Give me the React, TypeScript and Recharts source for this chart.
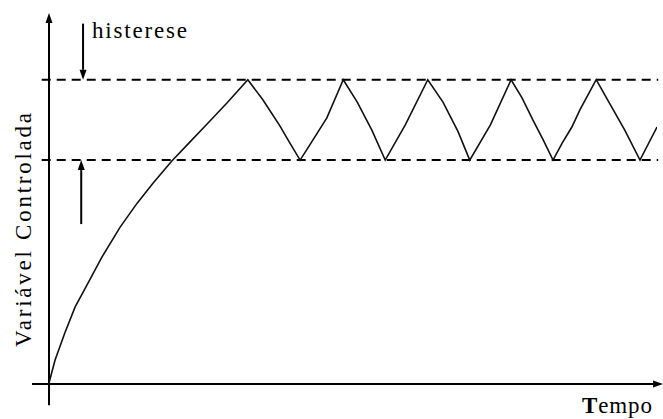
import React from 'react';
import { ComposedChart, Line, XAxis, YAxis, ReferenceLine, Customized } from 'recharts';

// Time (arbitrary units) and controlled variable (% of upper limit)
const timeValues = [
  0, 1.0, 2.6, 4.3, 6.7, 8.7, 11.7, 14.5, 17.1, 20.2, 23.2, 26.0, 29.3, 32.7,
  35.2, 38.0, 39.6, 41.3, 42.9, 45.7, 48.4,
  50.7, 53.1, 55.3, 58.6, 62.3,
  64.8, 67.3, 69.2, 72.6, 76.0,
  77.8, 79.6, 81.3, 82.9, 84.4, 86.0, 87.3, 90.0,
  91.9, 94.7, 97.2, 100,
];
const controlledValues = [
  0, 7.6, 16.5, 25.1, 34.0, 41.5, 51.4, 59.3, 65.9, 73.2, 79.5, 85.4, 92.4, 100,
  93.3, 84.7, 79.2, 73.5, 78.5, 87.4, 100,
  92.6, 83.4, 73.5, 85.1, 100,
  92.6, 82.8, 73.5, 85.1, 100,
  94.0, 86.7, 80.1, 73.5, 79.1, 84.4, 90.0, 100,
  93.3, 83.4, 73.5, 84.4,
];
const upperLimit = 100;
const lowerLimit = 73.5;
const xDomain = [0, 100];
const yDomain = [0, 122];
const yAxisTitle = 'Variável Controlada';
const xAxisTitleFirst = 'T';
const xAxisTitleRest = 'empo';
const hysteresisLabel = 'histerese';

const data = timeValues.map((t, i) => ({ t, v: controlledValues[i] }));

const FONT = '"Liberation Serif", "Times New Roman", serif';

const ArrowLine = (props: any) => {
  const { x1, y1, x2, y2 } = props;
  const dx = x2 - x1;
  const dy = y2 - y1;
  const len = Math.sqrt(dx * dx + dy * dy) || 1;
  const ux = dx / len;
  const uy = dy / len;
  const headLen = 10;
  const half = 3.5;
  const bx = x2 - ux * headLen;
  const by = y2 - uy * headLen;
  const px = -uy;
  const py = ux;
  return (
    <g>
      <line x1={x1} y1={y1} x2={bx} y2={by} stroke="#000" strokeWidth={2} />
      <polygon
        points={`${x2},${y2} ${bx + px * half},${by + py * half} ${bx - px * half},${by - py * half}`}
        fill="#000"
      />
    </g>
  );
};

const Texts = () => (
  <g fontFamily={FONT} fill="#000">
    <text x={92} y={38} fontSize={23} textLength={95} lengthAdjust="spacing">
      {hysteresisLabel}
    </text>
    <text x={582} y={413} fontSize={23} textLength={70} lengthAdjust="spacing">
      <tspan fontWeight="bold">{xAxisTitleFirst}</tspan>
      <tspan>{xAxisTitleRest}</tspan>
    </text>
    <text
      x={0}
      y={0}
      fontSize={23}
      textAnchor="middle"
      textLength={234}
      lengthAdjust="spacing"
      transform="translate(31,230) rotate(-90)"
    >
      {yAxisTitle}
    </text>
  </g>
);

export default function App() {
  return (
    <div style={{ width: 663, height: 419, background: '#fff' }}>
      <style>{'body{margin:0;background:#fff}'}</style>
      <ComposedChart
        width={663}
        height={419}
        data={data}
        margin={{ top: 13, right: 6, bottom: 36, left: 49 }}
      >
        <XAxis type="number" dataKey="t" domain={xDomain} hide allowDataOverflow />
        <YAxis type="number" domain={yDomain} hide allowDataOverflow />
        <ReferenceLine
          segment={[{ x: -1.2, y: upperLimit }, { x: 100.2, y: upperLimit }]}
          stroke="#000"
          strokeWidth={2}
          strokeDasharray="9 6"
          ifOverflow="visible"
        />
        <ReferenceLine
          segment={[{ x: -1.2, y: lowerLimit }, { x: 100.2, y: lowerLimit }]}
          stroke="#000"
          strokeWidth={2}
          strokeDasharray="9 6"
          ifOverflow="visible"
        />
        <ReferenceLine
          segment={[{ x: 0, y: -7.3 }, { x: 0, y: 122 }]}
          ifOverflow="visible"
          shape={ArrowLine}
        />
        <ReferenceLine
          segment={[{ x: -2.8, y: -0.3 }, { x: 101, y: -0.3 }]}
          ifOverflow="visible"
          shape={ArrowLine}
        />
        <ReferenceLine
          segment={[{ x: 5.6, y: 118.5 }, { x: 5.6, y: upperLimit }]}
          ifOverflow="visible"
          shape={ArrowLine}
        />
        <ReferenceLine
          segment={[{ x: 5.3, y: 52.4 }, { x: 5.3, y: lowerLimit }]}
          ifOverflow="visible"
          shape={ArrowLine}
        />
        <Line
          type="linear"
          dataKey="v"
          stroke="#111"
          strokeWidth={1.6}
          dot={false}
          isAnimationActive={false}
        />
        <Customized component={Texts} />
      </ComposedChart>
    </div>
  );
}
